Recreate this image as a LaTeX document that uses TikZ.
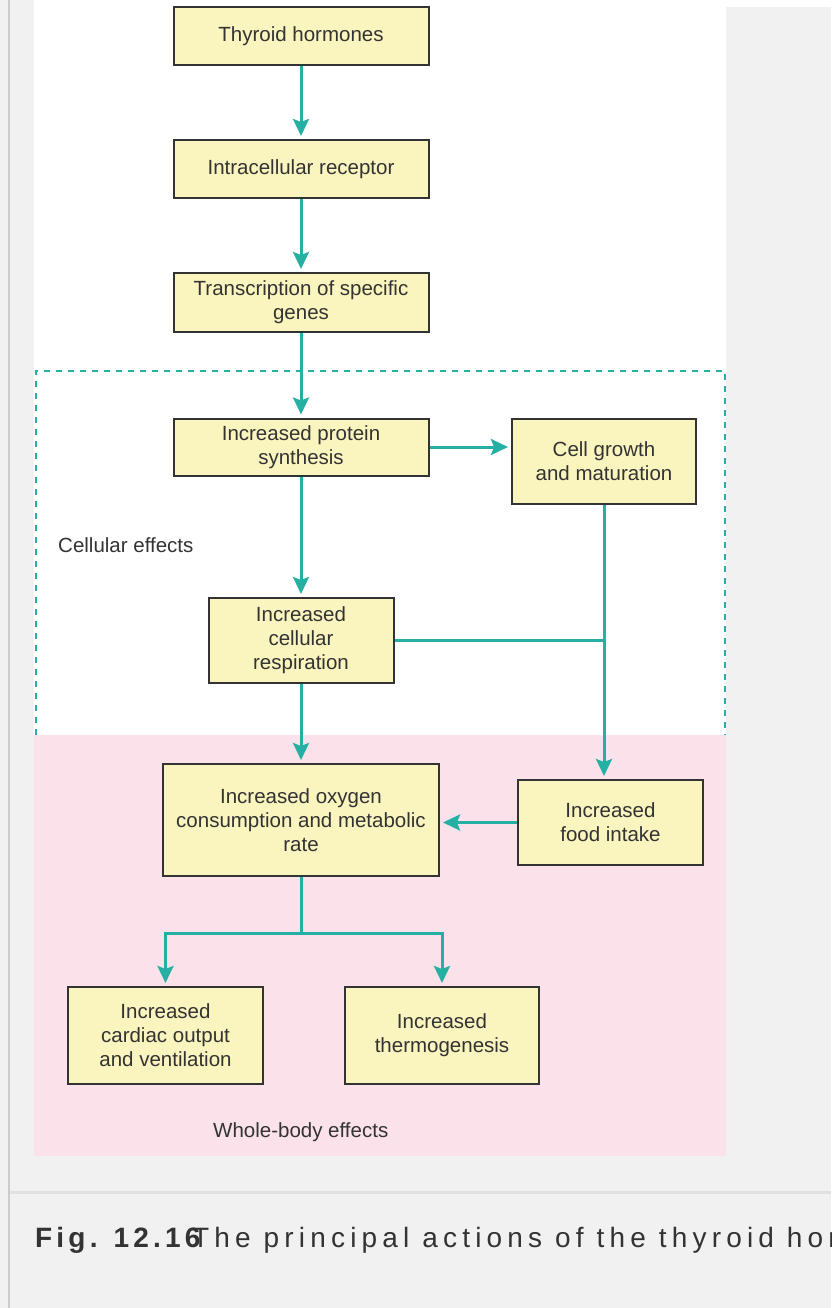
\documentclass[tikz,border=0pt]{standalone}
\usepackage{fontspec}
\setmainfont{Liberation Sans}
\newfontfamily\capfont[LetterSpace=15]{Liberation Sans}
\newfontfamily\captextfont[LetterSpace=18.5]{Liberation Sans}
\usetikzlibrary{arrows.meta}

\definecolor{flowteal}{RGB}{38,176,164}
\definecolor{boxfill}{RGB}{250,244,190}
\definecolor{pinkbg}{RGB}{250,225,234}
\definecolor{pagegray}{RGB}{241,241,241}
\definecolor{ink}{RGB}{51,51,51}

\begin{document}
\begin{tikzpicture}[
			x=1pt, y=-1pt,
			every node/.style = {font=\fontsize{20.5}{24}\selectfont, text=ink},
			effbox/.style     = {draw=ink, line width=2pt, fill=boxfill,
			                     align=center, inner sep=2pt},
			flow/.style       = {draw=flowteal, line width=3pt,
			                     -{Stealth[length=17pt,width=16pt,inset=3pt]},
			                     shorten >=3pt},
			link/.style       = {draw=flowteal, line width=3pt}
			]
			\useasboundingbox (0,0) rectangle (831,1308);
			\clip (0,0) rectangle (831,1308);
			
			%--- page background ---
			\fill[pagegray] (0,0) rectangle (831,1308);
			\fill[white] (34,0) rectangle (831,7);
			\fill[white] (34,0) rectangle (726,735);
			\fill[pinkbg] (34,735) rectangle (726,1156);
			\draw[line width=2pt, draw={rgb,255:red,204;green,204;blue,204}] (8.5,0) -- (8.5,1308);
			\draw[line width=3pt, draw={rgb,255:red,224;green,224;blue,224}] (10,1192) -- (831,1192);
			
			%--- cellular effects frame ---
			\draw[flowteal, line width=2pt, dash pattern=on 6pt off 6pt]
				(36,735) -- (36,371) -- (725,371) -- (725,735);
			
			%--- nodes and their positions ---
			\node[effbox, minimum width=255pt, minimum height=58pt] (thy)  at (301,36)  {Thyroid hormones};
			\node[effbox, minimum width=255pt, minimum height=58pt] (rec)  at (301,169) {Intracellular receptor};
			\node[effbox, minimum width=255pt, minimum height=59pt] (gene) at (301,302.5) {Transcription of specific\\genes};
			\node[effbox, minimum width=255pt, minimum height=57pt] (prot) at (301,447) {Increased protein\\synthesis};
			\node[effbox, minimum width=184pt, minimum height=85pt] (grow) at (604,461) {Cell growth\\and maturation};
			\node[effbox, minimum width=185pt, minimum height=85pt] (resp) at (301,640.5) {Increased\\cellular\\respiration};
			\node[effbox, minimum width=276pt, minimum height=112pt] (oxy) at (301,820) {Increased oxygen\\consumption and metabolic\\rate};
			\node[effbox, minimum width=185pt, minimum height=85pt] (food) at (610.5,822.5) {Increased\\food intake};
			\node[effbox, minimum width=195pt, minimum height=97pt] (card) at (165.5,1035.5) {Increased\\cardiac output\\and ventilation};
			\node[effbox, minimum width=194pt, minimum height=97pt] (heat) at (442,1035.5) {Increased\\thermogenesis};
			
			%--- region labels ---
			\node[anchor=base west, inner sep=0pt] (cell) at (58,552)  {Cellular effects};
			\node[anchor=base west, inner sep=0pt] (body) at (213,1137) {Whole-body effects};
			
			%--- connectors ---
			\draw[flow] (thy)  -- (rec);
			\draw[flow] (rec)  -- (gene);
			\draw[flow] (gene) -- (prot);
			\draw[flow] (prot) -- (grow.west |- prot.east);
			\draw[flow] (prot) -- (resp);
			\draw[flow] (resp) -- (oxy.north);
			\draw[flow] (grow.south) -- (grow.south |- food.north);
			\draw[link] (resp.east) -- (resp.east -| grow.south);
			\draw[flow] (food.west) -- (oxy.east |- food.west);
			
			\coordinate (split) at (301,933);
			\draw[link] (oxy.south) -- (split);
			\draw[flow] (split) -| (card.north);
			\draw[flow] (split) -| (heat.north);
			
			%--- caption ---
			\node[anchor=base west, inner sep=0pt, font=\capfont\fontsize{28}{32}\selectfont\bfseries] (fig) at (35,1247) {Fig. 12.16};
			\node[anchor=base west, inner sep=0pt, font=\captextfont\fontsize{28}{32}\selectfont] (cap) at (192,1247) {The principal actions of the thyroid hormones.};
		\end{tikzpicture}
\end{document}
